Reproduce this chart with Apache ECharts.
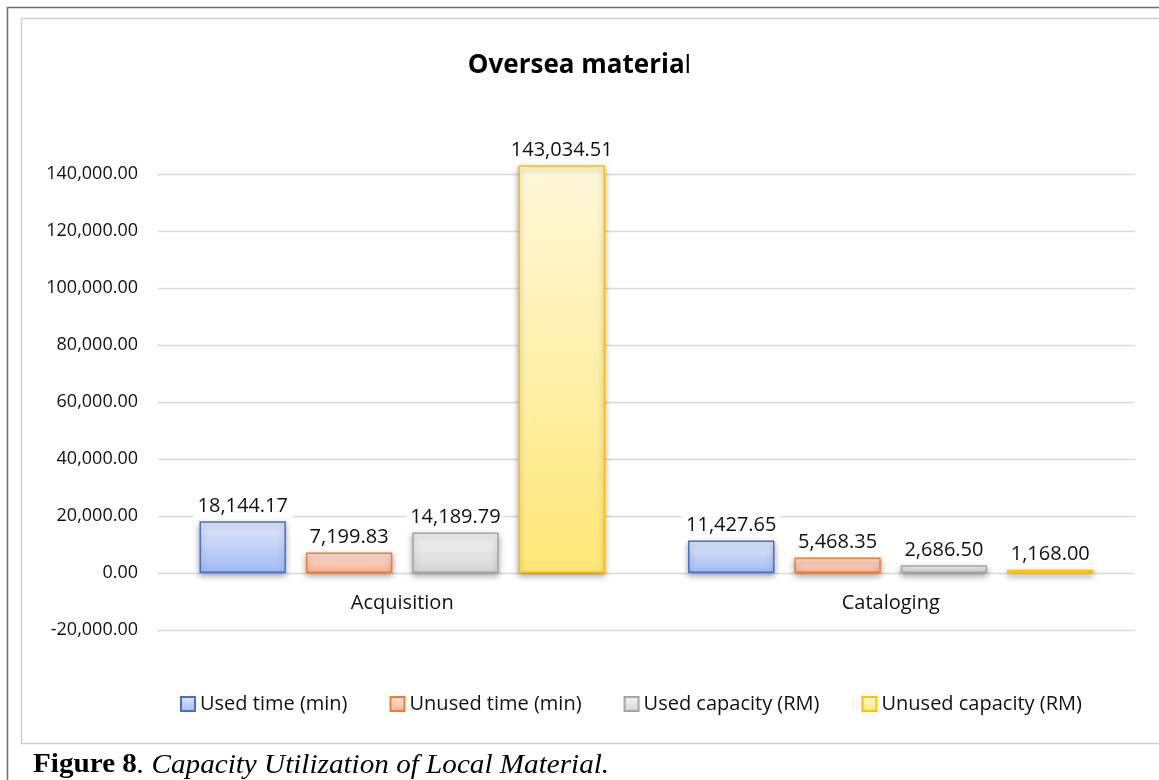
<!DOCTYPE html>
<html>
<head>
<meta charset="utf-8">
<script src="https://cdn.jsdelivr.net/npm/echarts@6/dist/echarts.min.js"></script>
<style>
  html, body { margin: 0; padding: 0; background: #fff; }
  #chart { width: 1159px; height: 780px; }
</style>
</head>
<body>
<div id="chart"></div>
<script>
// Categories and series values
const categories = ['Acquisition', 'Cataloging'];
const usedTime = [18144.17, 11427.65];
const unusedTime = [7199.83, 5468.35];
const usedCapacity = [14189.79, 2686.50];
const unusedCapacity = [143034.51, 1168.00];
const seriesNames = ['Used time (min)', 'Unused time (min)', 'Used capacity (RM)', 'Unused capacity (RM)'];

const FONT = 'Open Sans';
const fmt = v => v.toLocaleString('en-US', { minimumFractionDigits: 2, maximumFractionDigits: 2 });

function grad(top, bottom) {
  return new echarts.graphic.LinearGradient(0, 0, 0, 1, [
    { offset: 0, color: top },
    { offset: 1, color: bottom }
  ]);
}

const styles = [
  { fill: grad('#e1e8fb', '#a3bbf5'), border: '#4472c4' },
  { fill: grad('#fde3d5', '#f9b395'), border: '#ed7d31' },
  { fill: grad('#f3f3f3', '#d6d6d6'), border: '#a5a5a5' },
  { fill: grad('#fff8da', '#ffe877'), border: '#ffc000' }
];

const values = [usedTime, unusedTime, usedCapacity, unusedCapacity];

const series = values.map((data, i) => ({
  name: seriesNames[i],
  type: 'bar',
  data: data,
  clip: false,
  barGap: '23%',
  barCategoryGap: '17%',
  itemStyle: {
    color: styles[i].fill,
    borderColor: styles[i].border,
    borderWidth: 1.5,
    shadowColor: 'rgba(0,0,0,0.35)',
    shadowBlur: 6,
    shadowOffsetY: 3
  },
  label: {
    show: true,
    position: 'top',
    distance: 3,
    formatter: p => fmt(p.value),
    fontFamily: FONT,
    fontSize: 20,
    color: '#111',
    backgroundColor: '#fff',
    padding: [2, 4]
  }
}));

const chart = echarts.init(document.getElementById('chart'), null, { renderer: 'canvas' });

chart.setOption({
  animation: false,
  backgroundColor: '#fff',
  title: {
    text: '{b|Oversea materia}{n|l}',
    left: 'center',
    top: 48,
    textStyle: {
      rich: {
        b: { fontFamily: FONT, fontSize: 26, fontWeight: 'bold', color: '#000' },
        n: { fontFamily: FONT, fontSize: 26, fontWeight: 'normal', color: '#000' }
      }
    }
  },
  grid: { left: 158, right: 24, top: 174, bottom: 150 },
  legend: {
    top: 689,
    left: 175,
    itemWidth: 14,
    itemHeight: 14,
    itemGap: 42,
    icon: 'rect',
    textStyle: { fontFamily: FONT, fontSize: 20, color: '#111' },
    data: seriesNames
  },
  xAxis: {
    type: 'category',
    data: categories,
    axisLine: { show: false },
    axisTick: { show: false },
    // category names sit just under the zero line
    axisLabel: { fontFamily: FONT, fontSize: 20, color: '#111', margin: -37 }
  },
  yAxis: {
    type: 'value',
    min: -20000,
    max: 140000,
    interval: 20000,
    axisLine: { show: false },
    axisTick: { show: false },
    splitLine: { lineStyle: { color: '#d9d9d9', width: 1.3 } },
    axisLabel: {
      fontFamily: FONT, fontSize: 18, color: '#111', margin: 20,
      formatter: v => fmt(v)
    }
  },
  graphic: [
    {
      type: 'polyline',
      shape: { points: [[7.5, 780], [7.5, 7.5], [1159, 7.5]] },
      style: { fill: 'none', stroke: '#6d6d6d', lineWidth: 1.5 }
    },
    {
      type: 'polyline',
      shape: { points: [[1159, 18.5], [21.5, 18.5], [21.5, 743.5], [1159, 743.5]] },
      style: { fill: 'none', stroke: '#d0d0d0', lineWidth: 1.5 }
    },
    {
      type: 'text',
      x: 33,
      y: 752,
      scaleX: 1.08,
      style: {
        text: '{b|Figure 8}{i|. Capacity Utilization of Local Material.}',
        rich: {
          b: { fontFamily: 'Liberation Serif', fontSize: 27, fontWeight: 'bold', fill: '#000' },
          i: { fontFamily: 'Liberation Serif', fontSize: 27, fontStyle: 'italic', fill: '#000' }
        }
      }
    }
  ],
  series: series
});
</script>
</body>
</html>
